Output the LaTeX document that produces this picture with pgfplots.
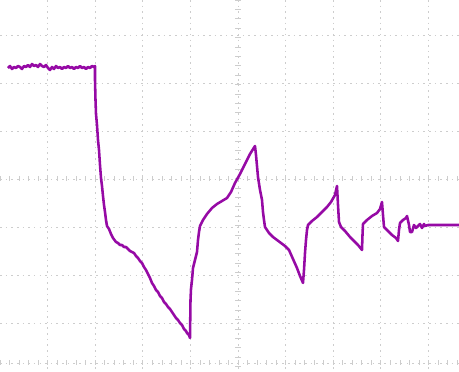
\documentclass[border=0pt]{standalone}
\usepackage{pgfplots}
\pgfplotsset{compat=1.18}
\definecolor{trace}{RGB}{150,10,165}
\definecolor{gridc}{RGB}{205,205,205}
\begin{document}
\begin{tikzpicture}
\begin{axis}[
  scale only axis, width=12cm, height=9.725cm,
  xmin=0, xmax=459, ymin=0, ymax=372, y dir=reverse,
  axis line style={draw=none},
  tick style={draw=none},
  xtick={47.6,95.2,142.8,190.4,238,285.6,333.2,380.8,428.4},
  ytick={35,83,131,179,227,275,323,363},
  xticklabels={}, yticklabels={},
  grid=major,
  major grid style={gridc, line width=0.5pt, dash pattern=on 1.2pt off 3pt},
]
\pgfplotsinvokeforeach{0,...,48}{
  \draw[gridc, line width=0.5pt] (axis cs:{#1*9.52},176.5) -- (axis cs:{#1*9.52},181.5);
  \draw[gridc, line width=0.5pt] (axis cs:{#1*9.52},360.5) -- (axis cs:{#1*9.52},365.5);
}
\pgfplotsinvokeforeach{0,...,39}{
  \draw[gridc, line width=0.5pt] (axis cs:235,{#1*9.4}) -- (axis cs:241,{#1*9.4});
}
\addplot[trace, line width=1.9pt, line join=round] coordinates {
(8,68)(10,66)(12,69)(14,67)(16,68)(18,66)(20,67)(22,69)(24,66)(26,67)(28,65)(30,67)(32,64)(34,66)(36,65)(38,67)(40,64)(42,66)(44,67)(46,65)(48,68)(50,70)(52,67)(54,69)(56,66)(58,68)(60,67)(62,69)(64,67)(66,68)(68,66)(70,68)(72,67)(74,69)(76,67)(78,68)(80,66)(82,68)(84,67)(86,69)(88,67)(90,68)(92,66)(94,67)(95,66)
(95,80)(95.5,100)(96,114)(97,125)(98,140)(99,150)(100,165)(101,178)(102,186)(103,196)(104,205)(105,212)(106,220)(107,226)(109,229)(111,234)(113,238)(116,242)(118,243)(120,245)(122,245)(124,247)(126,247)(128,249)(130,251)(132,252)(134,253)(136,256)(138,258)(140,261)(142,263)(144,267)(146,270)(148,274)(150,278)(152,283)(154,286)(156,290)(158,292)(160,296)(162,298)(164,302)(166,304)(168,307)(170,309)(172,312)(174,315)(176,318)(178,320)(180,323)(182,325)(184,329)(186,331)(187,333)(189,335)(190,338)
(190.5,300)(191,289)(192,280)(193,268)(195,260)(197,252)(198,240)(199,232)(200,226)(203,220)(207,214)(212,208)(217,204)(222,201)(227,198)(231,192)(235,183)(240,174)(245,164)(250,154)(255,146)
(256,155)(257,166)(258,177)(260,190)(262,200)(263,212)(264,220)(265,227)(269,233)(273,237)(277,240)(281,243)(285,246)(289,250)(293,259)(297,268)(300,276)(303,283)
(304,270)(305,253)(306,240)(307,230)(308,225)(312,221)(317,217)(322,212)(327,207)(331,202)(335,195)(337,186)
(338,205)(339,222)(341,227)(345,231)(350,237)(354,241)(358,245)(362,250)
(362.5,235)(363,224)(367,220)(372,216)(377,213)(380,209)(382,202)
(383,215)(384,227)(388,231)(392,235)(396,238)(398,241)
(399,230)(400,223)(403,220)(406,218)(407,216)
(409,225)(410,232)(412,232)(414,225)(416,228)(418,226)(420,224)(422,228)(424,224)(425,226)(428,225)(459,225)
};
\end{axis}
\pgfresetboundingbox
\path[use as bounding box] (current axis.south west) rectangle (current axis.north east);
\end{tikzpicture}
\end{document}
